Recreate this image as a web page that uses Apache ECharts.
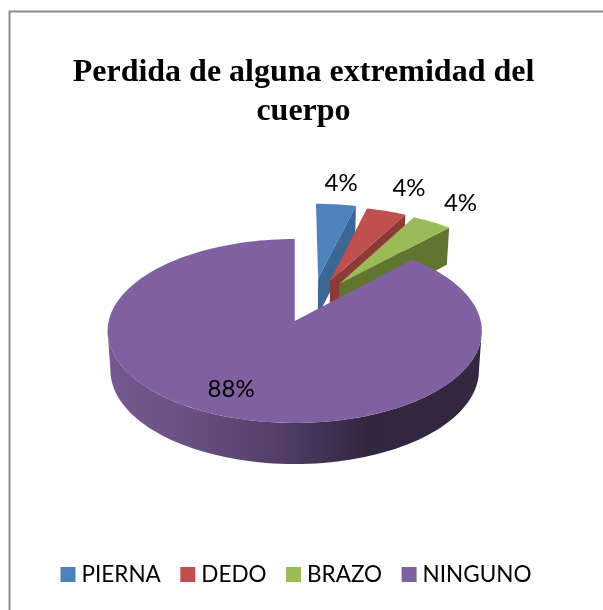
<!DOCTYPE html>
<html><head><meta charset="utf-8">
<style>html,body{margin:0;padding:0;background:#fff}#c{width:603px;height:610px}</style>
<script src="https://cdn.jsdelivr.net/npm/echarts@6/dist/echarts.min.js"></script>
</head><body><div id="c"></div>
<script>
const titleText = 'Perdida de alguna extremidad del\ncuerpo';
const categories = ['PIERNA', 'DEDO', 'BRAZO', 'NINGUNO'];
const values = [4, 4, 4, 88];
const colors = ['#4f81bd', '#c0504d', '#9bbb59', '#7f60a0'];
const wallColors = ['#3a6794', '#8c3a38', '#5f7530', null];
// plane offsets of exploded slices
const explode = [[0.133, -0.499], [0.2, -0.462], [0.25, -0.426], [0, 0]];
const labelRadius = [1.32, 1.38, 1.34, 0.76];
const labelTurn = [0, 1, 0, 3];

const cx = 294.7, cy = 321, A = 90.9, B = 186, K = 0.1087;
const wallFrom = 96, wallTo = 264;
const total = values.reduce((a, b) => a + b, 0);
const rad = d => d * Math.PI / 180;
function project(u, v) {
  const w = 1 - K * v;
  return [B * u / w, A * v / w];
}
const upper = (u, v) => { const p = project(u, v); return [cx + p[0], cy + p[1]]; };
const lower = (u, v) => {
  const p = project(u, v);
  return [cx + p[0] * 0.985, cy + p[1] + 39 + 0.02 * p[1]];
};
function rim(fn, off, a0, a1) {
  const pts = [], n = Math.max(4, Math.ceil((a1 - a0) / 2));
  for (let i = 0; i <= n; i++) {
    const t = rad(a0 + (a1 - a0) * i / n);
    pts.push(fn(off[0] + Math.sin(t), off[1] - Math.cos(t)));
  }
  return pts;
}
function sliceRender(idx) {
  return function () {
    const start = values.slice(0, idx).reduce((a, b) => a + b, 0) / total * 360;
    const end = start + values[idx] / total * 360;
    const off = explode[idx];
    const children = [];
    if (wallColors[idx]) {
      const e = rad(end), o = [off[0] + Math.sin(e), off[1] - Math.cos(e)];
      children.push({ type: 'polygon', shape: { points: [upper(off[0], off[1]), upper(o[0], o[1]), lower(o[0], o[1]), lower(off[0], off[1])] }, style: { fill: wallColors[idx] } });
    } else {
      const f = Math.max(start, wallFrom), g = Math.min(end, wallTo);
      const a = rim(upper, off, f, g), b = rim(lower, off, f, g).reverse();
      children.push({ type: 'polygon', shape: { points: a.concat(b) }, style: {
        fill: new echarts.graphic.LinearGradient(0, 0, 1, 0, [
          { offset: 0, color: '#75598f' }, { offset: 0.2, color: '#6a5183' },
          { offset: 0.45, color: '#533f69' }, { offset: 0.7, color: '#31263f' }, { offset: 1, color: '#32283f' }
        ]) } });
    }
    children.push({ type: 'polygon', shape: { points: [upper(off[0], off[1])].concat(rim(upper, off, start, end)) }, style: { fill: colors[idx] } });
    const m = rad((start + end) / 2 + labelTurn[idx]), r = labelRadius[idx];
    const lp = upper(off[0] + r * Math.sin(m), off[1] - r * Math.cos(m));
    children.push({ type: 'text', z2: 10, style: { text: Math.round(values[idx] / total * 100) + '%', x: lp[0], y: lp[1], align: 'center', verticalAlign: 'middle', fontFamily: 'Lato', fontSize: 24, fill: '#000' } });
    return { type: 'group', children };
  };
}
const chart = echarts.init(document.getElementById('c'), null, { renderer: 'canvas' });
chart.setOption({
  animation: false,
  backgroundColor: '#fff',
  title: { text: titleText, left: 298.5, top: 48, textAlign: 'center',
    textStyle: { fontFamily: 'Liberation Serif', fontWeight: 'bold', fontSize: 32, lineHeight: 39, color: '#000' } },
  legend: { data: categories, left: 60.5, top: 563, icon: 'rect', itemWidth: 15, itemHeight: 15, itemGap: 19.5, padding: 0,
    textStyle: { fontFamily: 'Lato', fontSize: 22.5, color: '#000', padding: [0, 0, 0, 1] } },
  graphic: [{ type: 'polyline', silent: true, shape: { points: [[9.5, 610], [9.5, 11.5], [603, 11.5]] }, style: { stroke: '#8c8c8c', lineWidth: 2, fill: 'none' } }],
  series: categories.map((name, i) => ({
    type: 'custom', name, coordinateSystem: 'none', silent: true,
    itemStyle: { color: colors[i] }, data: [[values[i]]], renderItem: sliceRender(i)
  }))
});
</script></body></html>
